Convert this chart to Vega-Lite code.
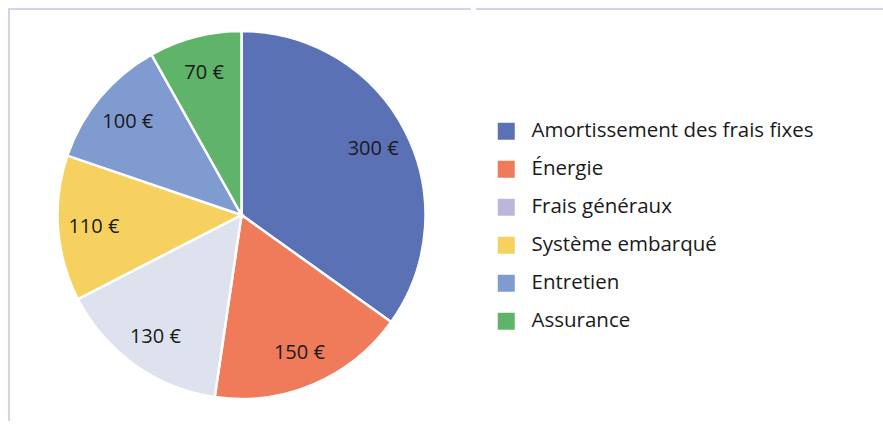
{
  "$schema": "https://vega.github.io/schema/vega-lite/v6.json",
  "autosize": {"type": "pad"},
  "padding": {"left": 8, "top": 8, "right": 0, "bottom": 5},
  "background": "#ffffff",
  "data": {
    "values": [
      {"poste": "Amortissement des frais fixes", "montant": 300, "ord": 1},
      {"poste": "Énergie", "montant": 150, "ord": 2},
      {"poste": "Frais généraux", "montant": 130, "ord": 3},
      {"poste": "Système embarqué", "montant": 110, "ord": 4},
      {"poste": "Entretien", "montant": 100, "ord": 5},
      {"poste": "Assurance", "montant": 70, "ord": 6}
    ]
  },
  "spacing": 0,
  "resolve": {"scale": {"color": "independent", "theta": "independent"}, "legend": {"color": "independent"}},
  "hconcat": [
    {
      "width": 465,
      "height": 412,
      "view": {"stroke": "#c8c4e0", "strokeWidth": 1.5, "strokeDash": [462, 880, 412]},
      "transform": [{"calculate": "datum.montant + ' €'", "as": "etiquette"}],
      "layer": [
        {
          "mark": {"type": "arc", "outerRadius": 184, "stroke": "#ffffff", "strokeWidth": 2.5},
          "encoding": {
            "theta": {"field": "montant", "type": "quantitative", "stack": true},
            "order": {"field": "ord", "type": "quantitative", "sort": "ascending"},
            "color": {
              "field": "poste",
              "type": "nominal",
              "scale": {
                "domain": ["Amortissement des frais fixes", "Énergie", "Frais généraux", "Système embarqué", "Entretien", "Assurance"],
                "range": ["#5b71b5", "#ef7b5a", "#dde2ee", "#f7d15f", "#7f9bd0", "#60b469"]
              },
              "legend": null
            }
          }
        },
        {
          "mark": {"type": "text", "radius": 148, "font": "Open Sans", "fontSize": 20, "color": "#1a1a1a", "dy": 1.5},
          "encoding": {
            "theta": {"field": "montant", "type": "quantitative", "stack": true},
            "order": {"field": "ord", "type": "quantitative", "sort": "ascending"},
            "text": {"field": "etiquette", "type": "nominal"}
          }
        }
      ]
    },
    {
      "width": 410,
      "height": 412,
      "view": {"stroke": "#c8c4e0", "strokeWidth": 1.5, "strokeDash": [410, 5000]},
      "mark": {"type": "square", "filled": true, "opacity": 0, "fillOpacity": 0, "size": 0},
      "encoding": {
        "color": {
          "field": "poste",
          "type": "nominal",
          "scale": {
            "domain": ["Amortissement des frais fixes", "Énergie", "Frais généraux", "Système embarqué", "Entretien", "Assurance"],
            "range": ["#5b71b5", "#ef7b5a", "#bbb7d8", "#f7d15f", "#7f9bd0", "#60b469"]
          },
          "legend": {
            "title": null,
            "orient": "none",
            "legendX": 20,
            "legendY": 112,
            "symbolType": "square",
            "symbolSize": 289,
            "symbolOpacity": 1,
            "symbolStrokeWidth": 0,
            "labelFont": "Open Sans",
            "labelFontSize": 20.5,
            "labelColor": "#1a1a1a",
            "labelOffset": 15,
            "labelLimit": 400,
            "rowPadding": 17,
            "padding": 0,
            "encode": {"symbols": {"update": {"opacity": {"value": 1}, "fillOpacity": {"value": 1}, "size": {"value": 289}}}}
          }
        }
      }
    }
  ],
  "config": {"concat": {"spacing": 0}}
}
